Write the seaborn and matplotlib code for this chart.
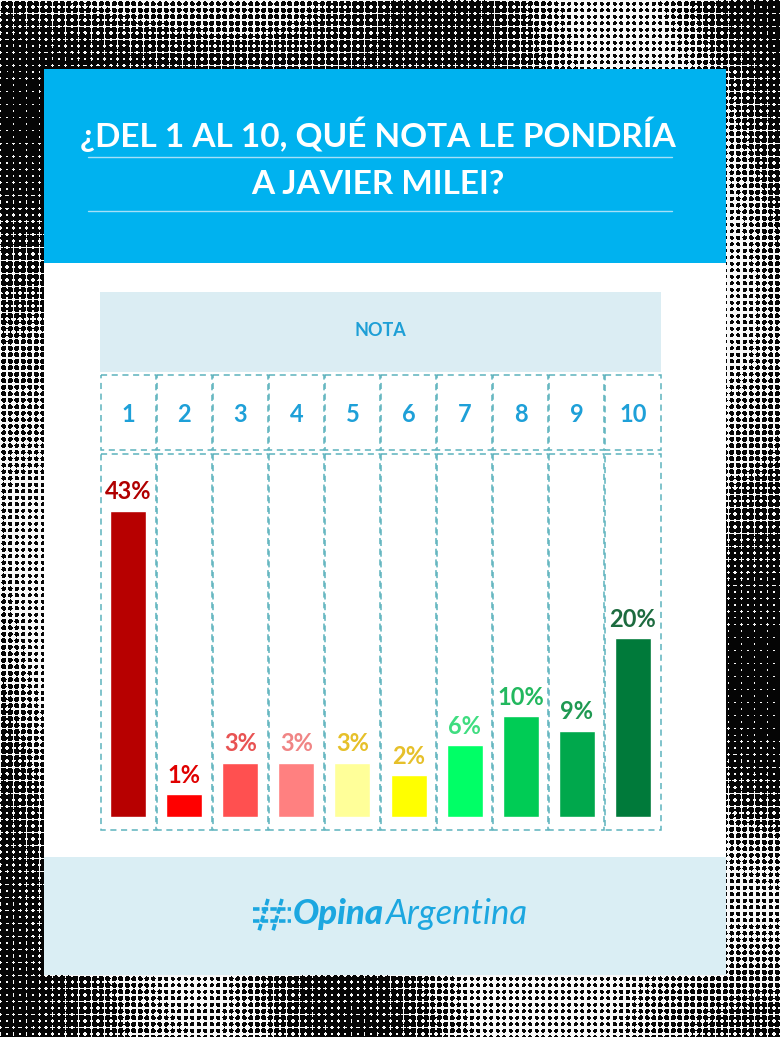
import matplotlib
matplotlib.use('Agg')
import matplotlib.pyplot as plt
import seaborn as sns
import numpy as np
from matplotlib.patches import Rectangle

# data
notas = ['1', '2', '3', '4', '5', '6', '7', '8', '9', '10']
pct = [43, 1, 3, 3, 3, 2, 6, 10, 9, 20]
# bar lengths as drawn in the original graphic (same unit as the 43% bar)
drawn = [43, 3.2, 7.6, 7.6, 7.6, 5.9, 10.1, 14.2, 12.1, 25.1]
bar_colors = ['#B70000', '#FF0000', '#FF5050', '#FF8080', '#FFFF99',
              '#FFFF00', '#00FF66', '#00CC55', '#00A84C', '#007A3A']
label_colors = ['#B00000', '#E00000', '#E85353', '#F08585', '#E6C02A',
                '#E6C02A', '#3FDD80', '#22B85E', '#1F9952', '#1D6B3F']
title_lines = ['¿DEL 1 AL 10, QUÉ NOTA LE PONDRÍA', 'A JAVIER MILEI?']

sns.set_style('white')
plt.rcParams['font.family'] = ['Lato', 'DejaVu Sans']

W, H = 780, 1037
fig = plt.figure(figsize=(W / 100, H / 100), dpi=100)

# halftone background: black dots on white, dot size follows a smooth field
bg = fig.add_axes([0, 0, 1, 1])
yy, xx = np.mgrid[0:H, 0:W].astype(float)
p = 6.5
cx = (np.floor(xx / p) + 0.5) * p
cy = (np.floor(yy / p) + 0.5) * p
u, v = cx / W, cy / H
dark = 0.62 + 0.3 * np.sin(6 * u + 5 * v + 2.4 * np.sin(5 * v - 4 * u))
dark += 0.16 * np.cos(3 * u - 7 * v + 1.5)
dark = np.clip(dark, 0.25, 1.0)
r = p * 1.08 * np.sqrt(dark / np.pi)
d = np.hypot(xx - cx, yy - cy)
img = np.where(d < r, 0.02, 0.97)
bg.imshow(img, cmap='gray', vmin=0, vmax=1, extent=(0, W, H, 0),
          aspect='auto', interpolation='antialiased', zorder=0)
bg.set_xlim(0, W)
bg.set_ylim(H, 0)
bg.axis('off')

# card, header, footer
bg.add_patch(Rectangle((44, 69), 682, 906, fc='white', ec='none', zorder=1))
bg.add_patch(Rectangle((44, 69), 682, 194, fc='#00B2EF', ec='none', zorder=2))
bg.add_patch(Rectangle((44, 857), 682, 118, fc='#DAEEF4', ec='none', zorder=2))
bg.add_patch(Rectangle((100, 292), 561, 80, fc='#DBEDF3', ec='none', zorder=2))

for yl, line in zip([134, 185], title_lines):
    bg.text(378, yl, line, ha='center', va='center', color='white',
            fontsize=24, fontweight='bold', zorder=3)
for yl in [157, 211]:
    bg.plot([88, 672], [yl, yl], color='#A6E0F8', lw=1.0, zorder=3)

bg.text(380, 331, 'NOTA', ha='center', va='center', color='#1E9FD6',
        fontsize=13, fontweight='bold', zorder=3)

# dashed cells
col_w = 561 / len(notas)
dash_c = '#5DB3BD'
for i in range(len(notas)):
    x0 = 100 + i * col_w
    bg.add_patch(Rectangle((x0 + 0.5, 375), col_w - 1, 75, fill=False,
                           ec=dash_c, lw=1.1, ls=(0, (4, 3)), zorder=3))
    bg.add_patch(Rectangle((x0 + 0.5, 454), col_w - 1, 376, fill=False,
                           ec=dash_c, lw=1.1, ls=(0, (4, 3)), zorder=3))

# logo
lc = '#1CA7E0'
for xt in [268, 282]:
    bg.plot([xt, xt - 9], [899, 931], color=lc, lw=2.6,
            ls=(0, (1.8, 0.6)), zorder=3)
for yh in [909, 921]:
    bg.plot([253, 291], [yh, yh], color=lc, lw=2.6, ls=(0, (1.8, 0.6)), zorder=3)
bg.text(384, 914, 'Opina', ha='right', va='center', color=lc, fontsize=25,
        fontweight='black', style='italic', zorder=3)
bg.text(385, 914, 'Argentina', ha='left', va='center', color=lc, fontsize=25,
        style='italic', zorder=3)

# bar chart
ax = fig.add_axes([100 / W, 1 - 817 / H, 561 / W, (817 - 455) / H])
ax.patch.set_alpha(0)
sns.barplot(x=notas, y=drawn, hue=notas, palette=bar_colors, legend=False,
            width=0.64, saturation=1, ax=ax, zorder=4)
ax.set_xlim(-0.5, len(notas) - 0.5)
ax.set_ylim(0, 362 / 7.12)
ax.set_yticks([])
ax.xaxis.tick_top()
ax.tick_params(axis='x', length=0, pad=21, labelsize=17, labelcolor='#1EA0D8')
for lbl in ax.get_xticklabels():
    lbl.set_fontweight('bold')
for s in ax.spines.values():
    s.set_visible(False)
ax.set_xlabel('')
ax.set_ylabel('')

for i, (h, pv) in enumerate(zip(drawn, pct)):
    ax.text(i, h + 1.6, f'{pv}%', ha='center', va='baseline',
            color=label_colors[i], fontsize=17, fontweight='bold', zorder=5)

plt.savefig('out.png', dpi=100)
